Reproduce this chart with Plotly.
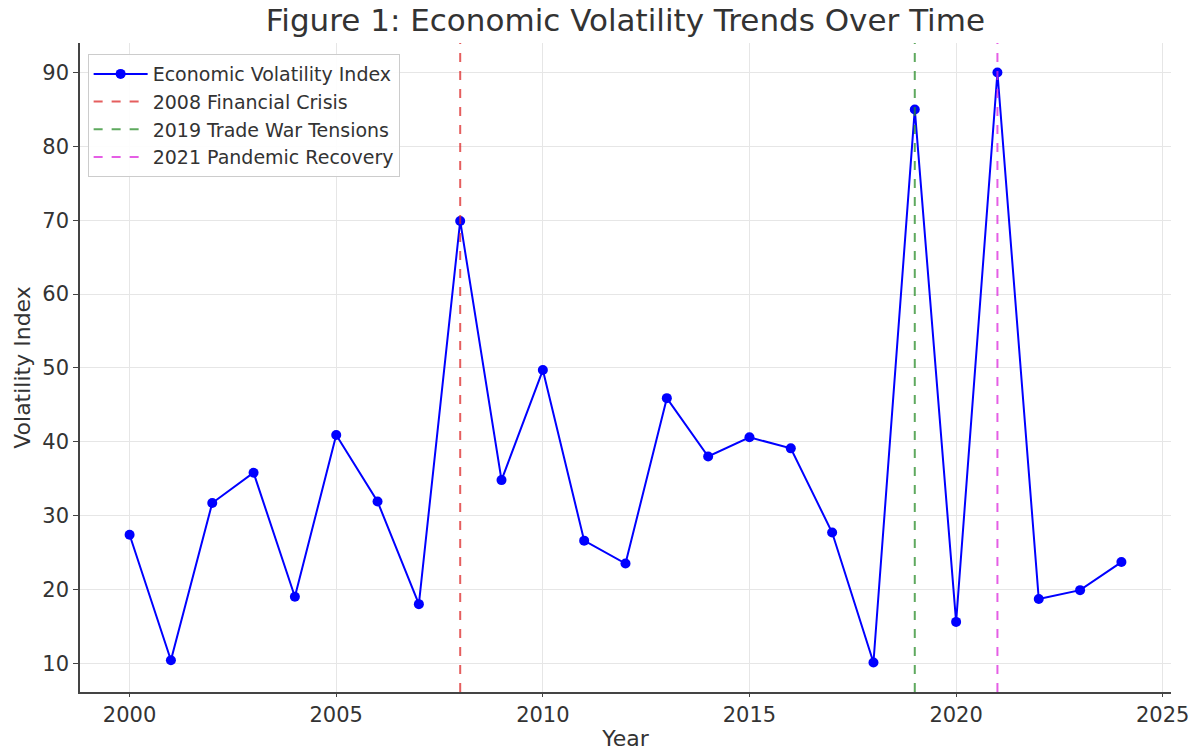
import plotly.graph_objects as go

years = list(range(2000, 2025))
volatility = [27.4, 10.4, 31.7, 35.8, 19.0, 40.9, 31.9, 18.0, 69.9, 34.8,
              49.7, 26.6, 23.5, 45.9, 38.0, 40.6, 39.1, 27.7, 10.1, 85.0,
              15.6, 90.0, 18.7, 19.9, 23.7]

event_years = [2008, 2019, 2021]
event_labels = ["2008 Financial Crisis", "2019 Trade War Tensions", "2021 Pandemic Recovery"]
event_colors = ["rgba(220,40,40,0.75)", "rgba(40,140,40,0.75)", "rgba(220,40,220,0.75)"]

x_ticks = [2000, 2005, 2010, 2015, 2020, 2025]
y_ticks = [10, 20, 30, 40, 50, 60, 70, 80, 90]

ymin, ymax = min(volatility), max(volatility)
pad = 0.05 * (ymax - ymin)
yr = [ymin - pad, ymax + pad]
xpad = 0.05 * (years[-1] - years[0])
xr = [years[0] - xpad, 2025 + 0.2]

FONT = "DejaVu Sans"
fig = go.Figure()
fig.add_trace(go.Scatter(
    x=years, y=volatility, mode="lines+markers", name="Economic Volatility Index",
    line=dict(color="#0000ff", width=2), marker=dict(color="#0000ff", size=10)))
for yv, lab, col in zip(event_years, event_labels, event_colors):
    fig.add_trace(go.Scatter(
        x=[yv, yv], y=yr, mode="lines", name=lab,
        line=dict(color=col, width=2, dash="dash")))

axis_common = dict(showgrid=True, gridcolor="#e6e6e6", gridwidth=1,
                   showline=True, linecolor="#444", linewidth=1.5,
                   ticks="outside", tickcolor="#444",
                   tickfont=dict(family=FONT, size=21, color="#333"),
                   zeroline=False, automargin=False)
fig.update_layout(
    width=1198, height=751,
    margin=dict(l=80, r=27, t=43, b=59),
    paper_bgcolor="white", plot_bgcolor="white",
    title=dict(text="Figure 1: Economic Volatility Trends Over Time",
               x=0.522, xanchor="center", y=0.973, yanchor="middle",
               font=dict(family=FONT, size=31, color="#333")),
    xaxis=dict(range=xr, tickvals=x_ticks, ticklen=3,
               title=dict(text="Year", font=dict(family=FONT, size=22, color="#333"), standoff=8),
               **axis_common),
    yaxis=dict(range=yr, tickvals=y_ticks, ticklen=5,
               title=dict(text="Volatility Index", font=dict(family=FONT, size=22, color="#333"), standoff=6),
               **axis_common),
    legend=dict(x=0.007, y=0.983, xanchor="left", yanchor="top",
                bgcolor="rgba(255,255,255,0.9)", bordercolor="#ccc", borderwidth=1,
                font=dict(family=FONT, size=19, color="#333"), tracegroupgap=0,
                itemwidth=54),
    showlegend=True,
)
fig.write_html("out.html", config={"displayModeBar": False},
               post_script="document.body.style.margin='0';")
